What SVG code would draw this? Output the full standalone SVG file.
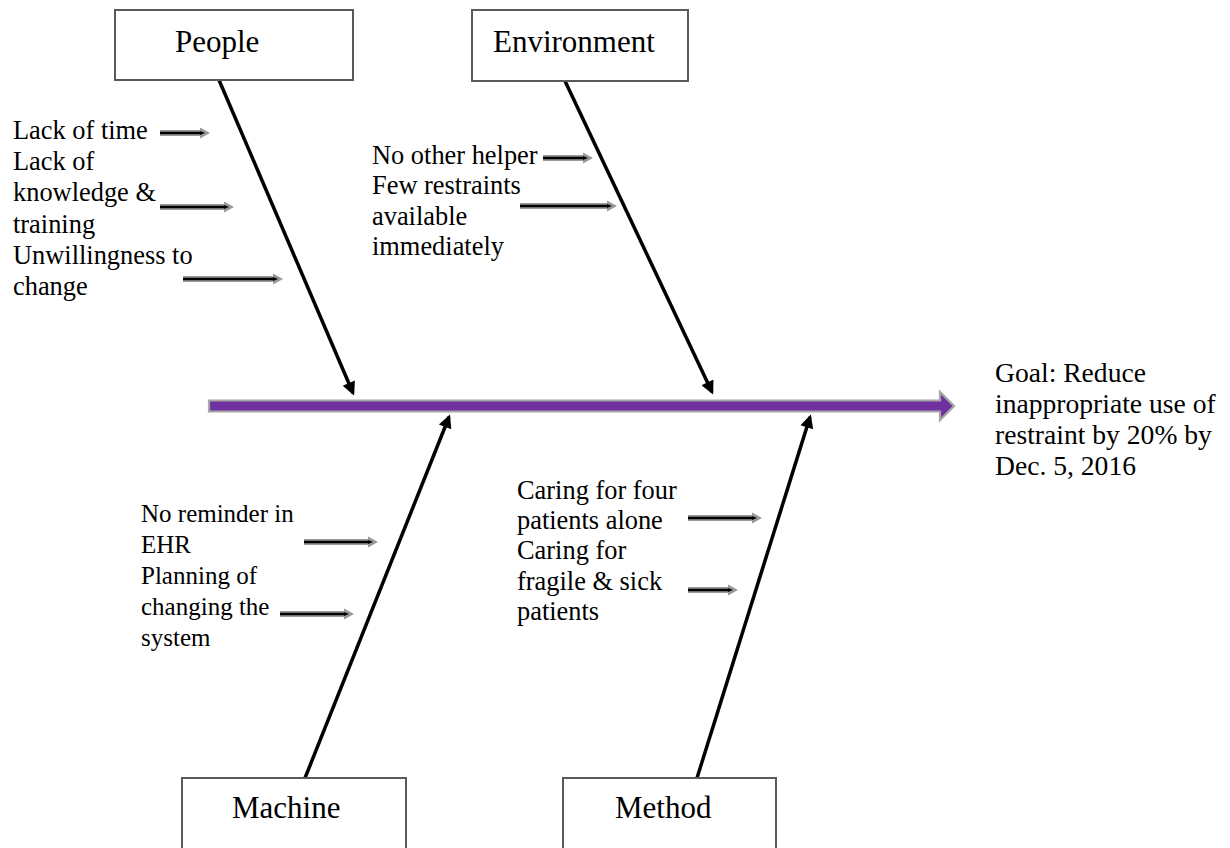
<svg xmlns="http://www.w3.org/2000/svg" width="1230" height="848" viewBox="0 0 1230 848">
<style>
.box{fill:#fff;stroke:#595959;stroke-width:2}
.title{font-family:"Liberation Serif","Times New Roman",serif;font-size:31px;fill:#000}
.lbl{font-family:"Liberation Serif","Times New Roman",serif;font-size:26.4px;fill:#000}
.lbl2{font-family:"Liberation Serif","Times New Roman",serif;font-size:25px;fill:#000}
.goal{font-family:"Liberation Serif","Times New Roman",serif;font-size:27.6px;fill:#000}
.bone{stroke:#000;stroke-width:3.5;fill:none;marker-end:url(#bh)}
.sa-o{stroke:#999;stroke-width:6;fill:none}
.sa-i{stroke:#000;stroke-width:2.5;fill:none}
.sh-o{fill:#999}
.sh-i{fill:#000}
</style>
<defs>
<marker id="bh" viewBox="0 0 10 10" refX="8" refY="5" markerWidth="5" markerHeight="3.8" orient="auto" markerUnits="strokeWidth">
<path d="M0,0 L10,5 L0,10 Z" fill="#000"/>
</marker>
</defs>
<rect width="1230" height="848" fill="#fff"/>

<g id="spine">
<polygon points="209,400.5 940,400.5 940,392 954,406 940,420 940,411.5 209,411.5" fill="#7030A0" stroke="#A6A6A6" stroke-width="2.2"/>
</g>

<g id="connectors">
<line class="bone" x1="219" y1="80" x2="353" y2="393"/>
<line class="bone" x1="565" y1="81" x2="712" y2="392"/>
<line class="bone" x1="305" y1="778" x2="449" y2="417"/>
<line class="bone" x1="697" y1="778" x2="810" y2="417"/>
</g>

<g id="small-arrows">
<g id="a1"><line class="sa-o" x1="160" y1="133" x2="202" y2="133"/><line class="sa-i" x1="160" y1="133" x2="202" y2="133"/><polygon class="sh-o" points="200,127.5 210,133 200,138.5"/><polygon class="sh-i" points="200,131 205,133 200,135"/></g>
<g id="a2"><line class="sa-o" x1="160" y1="207" x2="226" y2="207"/><line class="sa-i" x1="160" y1="207" x2="226" y2="207"/><polygon class="sh-o" points="224,201.5 234,207 224,212.5"/><polygon class="sh-i" points="224,205 229,207 224,209"/></g>
<g id="a3"><line class="sa-o" x1="183" y1="279" x2="275" y2="279"/><line class="sa-i" x1="183" y1="279" x2="275" y2="279"/><polygon class="sh-o" points="273,273.5 283,279 273,284.5"/><polygon class="sh-i" points="273,277 278,279 273,281"/></g>
<g id="a4"><line class="sa-o" x1="543" y1="158" x2="585" y2="158"/><line class="sa-i" x1="543" y1="158" x2="585" y2="158"/><polygon class="sh-o" points="583,152.5 593,158 583,163.5"/><polygon class="sh-i" points="583,156 588,158 583,160"/></g>
<g id="a5"><line class="sa-o" x1="520" y1="206" x2="609" y2="206"/><line class="sa-i" x1="520" y1="206" x2="609" y2="206"/><polygon class="sh-o" points="607,200.5 617,206 607,211.5"/><polygon class="sh-i" points="607,204 612,206 607,208"/></g>
<g id="a6"><line class="sa-o" x1="304" y1="542" x2="370" y2="542"/><line class="sa-i" x1="304" y1="542" x2="370" y2="542"/><polygon class="sh-o" points="368,536.5 378,542 368,547.5"/><polygon class="sh-i" points="368,540 373,542 368,544"/></g>
<g id="a7"><line class="sa-o" x1="280" y1="614" x2="346" y2="614"/><line class="sa-i" x1="280" y1="614" x2="346" y2="614"/><polygon class="sh-o" points="344,608.5 354,614 344,619.5"/><polygon class="sh-i" points="344,612 349,614 344,616"/></g>
<g id="a8"><line class="sa-o" x1="688" y1="518" x2="754" y2="518"/><line class="sa-i" x1="688" y1="518" x2="754" y2="518"/><polygon class="sh-o" points="752,512.5 762,518 752,523.5"/><polygon class="sh-i" points="752,516 757,518 752,520"/></g>
<g id="a9"><line class="sa-o" x1="688" y1="590" x2="730" y2="590"/><line class="sa-i" x1="688" y1="590" x2="730" y2="590"/><polygon class="sh-o" points="728,584.5 738,590 728,595.5"/><polygon class="sh-i" points="728,588 733,590 728,592"/></g>
</g>

<g id="people">
<rect class="box" x="115" y="10" width="238" height="70"/>
<text class="title" x="175" y="52">People</text>
</g>
<g id="environment">
<rect class="box" x="472" y="10" width="216" height="71"/>
<text class="title" x="493" y="52">Environment</text>
</g>
<g id="machine">
<rect class="box" x="182" y="778" width="224" height="90"/>
<text class="title" x="232" y="818">Machine</text>
</g>
<g id="method">
<rect class="box" x="563" y="778" width="213" height="90"/>
<text class="title" x="615" y="818">Method</text>
</g>

<g id="people-causes">
<text class="lbl" x="13" y="139">Lack of time</text>
<text class="lbl" x="13" y="170.2">Lack of</text>
<text class="lbl" x="13" y="201.4">knowledge &amp;</text>
<text class="lbl" x="13" y="232.6">training</text>
<text class="lbl" x="13" y="263.8">Unwillingness to</text>
<text class="lbl" x="13" y="295">change</text>
</g>
<g id="environment-causes">
<text class="lbl" x="372" y="164">No other helper</text>
<text class="lbl" x="372" y="194.3">Few restraints</text>
<text class="lbl" x="372" y="224.6">available</text>
<text class="lbl" x="372" y="254.9">immediately</text>
</g>
<g id="machine-causes">
<text class="lbl2" x="141" y="522">No reminder in</text>
<text class="lbl2" x="141" y="553">EHR</text>
<text class="lbl2" x="141" y="584">Planning of</text>
<text class="lbl2" x="141" y="615">changing the</text>
<text class="lbl2" x="141" y="646">system</text>
</g>
<g id="method-causes">
<text class="lbl" x="517" y="499">Caring for four</text>
<text class="lbl" x="517" y="529.2">patients alone</text>
<text class="lbl" x="517" y="559.4">Caring for</text>
<text class="lbl" x="517" y="589.6">fragile &amp; sick</text>
<text class="lbl" x="517" y="619.8">patients</text>
</g>
<g id="goal">
<text class="goal" x="995" y="382">Goal: Reduce</text>
<text class="goal" x="995" y="413">inappropriate use of</text>
<text class="goal" x="995" y="444">restraint by 20% by</text>
<text class="goal" x="995" y="475">Dec. 5, 2016</text>
</g>
</svg>
